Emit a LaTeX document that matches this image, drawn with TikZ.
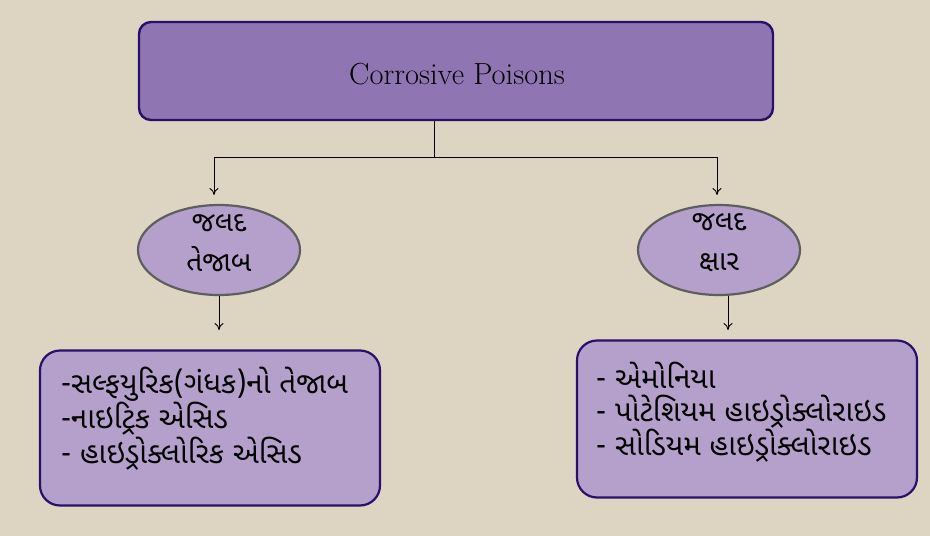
\documentclass[tikz,border=0pt]{standalone}
\usepackage{fontspec}
\newfontfamily\guj[Script=Gujarati]{Noto Sans Gujarati UI}
\usetikzlibrary{shapes.geometric,arrows.meta}
\definecolor{bg}{HTML}{DDD5C2}
\definecolor{topfill}{HTML}{9075B3}
\definecolor{lightfill}{HTML}{B5A0CC}
\definecolor{navy}{HTML}{2A0F6B}
\definecolor{ellline}{HTML}{5E5E5E}
\tikzset{
  topbox/.style={draw=navy,line width=2.4pt,fill=topfill,rounded corners=12pt,minimum width=634pt,minimum height=98pt,inner sep=0pt},
  listbox/.style={draw=navy,line width=2.2pt,fill=lightfill,rounded corners=20pt,inner sep=0pt},
  oval/.style={ellipse,draw=ellline,line width=2.2pt,fill=lightfill,minimum width=162pt,minimum height=90pt,inner sep=0pt},
  conn/.style={draw=black,line width=0.9pt},
  arr/.style={conn,-{To[length=7pt,width=9pt]}},
  gtext/.style={font=\guj\fontsize{29.5}{33}\selectfont,align=left,inner sep=0pt,anchor=north west},
  otext/.style={font=\guj\fontsize{28}{40}\selectfont,align=center,inner sep=0pt}
}
\begin{document}
\begin{tikzpicture}[x=1pt,y=-1pt]
\fill[bg] (0,0) rectangle (930,536);
\useasboundingbox (0,0) rectangle (930,536);
\node[topbox] (top) at (456,71) {};
\node (title) at (457,74) {\fontsize{30.5}{34}\selectfont Corrosive Poisons};
\node[oval] (lel) at (219,250) {};
\node[otext] (ltxt) at (219,243) {જલદ\\તેજાબ};
\node[oval] (rel) at (719,250) {};
\node[otext] (rtxt) at (719,243) {જલદ\\ક્ષાર};
\node[listbox,minimum width=340pt,minimum height=155pt] (lbox) at (210,428) {};
\node[gtext] (ltext) at (61,367) {-સલ્ફયુરિક(ગંધક)નો તેજાબ\\-નાઇટ્રિક એસિડ\\- હાઇડ્રોક્લોરિક એસિડ};
\node[listbox,minimum width=340pt,minimum height=157pt] (rbox) at (747,419) {};
\node[gtext] (rtext) at (596,362) {- એમોનિયા\\- પોટેશિયમ હાઇડ્રોક્લોરાઇડ\\- સોડિયમ હાઇડ્રોક્લોરાઇડ};
\coordinate (j) at (434,157);
\coordinate (la) at (214,195);
\coordinate (ra) at (717,195);
\coordinate (lb) at (219,330);
\coordinate (rb) at (728,330);
\draw[conn] (top.south -| j) -- (j);
\draw[arr] (j) -| (la);
\draw[arr] (j) -| (ra);
\draw[arr] (lel.south -| lb) -- (lb);
\draw[arr] (rel.south -| rb) -- (rb);
\end{tikzpicture}
\end{document}
